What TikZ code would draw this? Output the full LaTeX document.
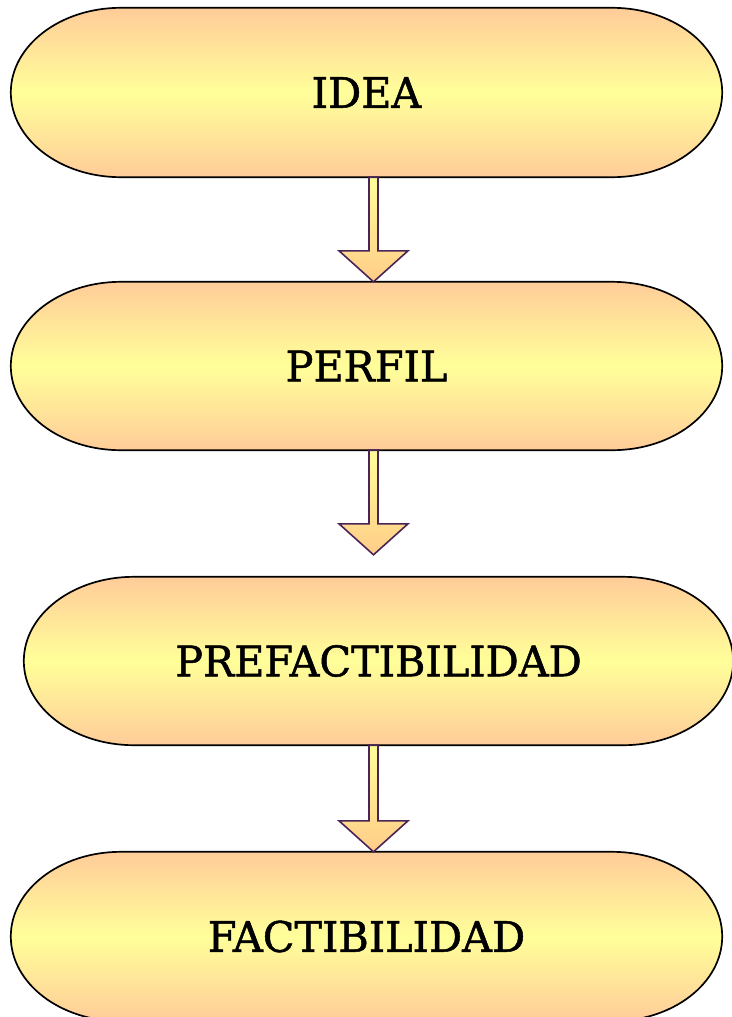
\documentclass[tikz,border=0pt]{standalone}
\usepackage{fontspec}
\newfontfamily\lblfont[FakeBold=1.2,FakeStretch=0.985]{DejaVu Serif}
\usetikzlibrary{calc,backgrounds}
\definecolor{peach}{HTML}{FFCC99}
\definecolor{lemon}{HTML}{FFFF99}
\definecolor{arrowline}{HTML}{4A2458}
\definecolor{arrowbot}{HTML}{FFCC88}
\tikzset{
  stage/.style={minimum width=711pt, minimum height=169pt, inner sep=0pt,
    font=\lblfont\fontsize{42}{50}\selectfont, text=black},
  stadiumfill/.style={draw=black, line width=1.7pt, top color=peach, bottom color=peach, middle color=lemon},
  blockarrow/.style={draw=arrowline, line width=1.6pt, line join=miter, top color=lemon, bottom color=arrowbot}
}
% #1 node name, #2 x radius of end caps
\newcommand{\stadiumpath}[2]{%
  \path[stadiumfill]
    let \p1=(#1.north west), \p2=(#1.south east), \n1={(\y1-\y2)/2} in
    (\x1+#2,\y1) -- (\x2-#2,\y1)
    arc[start angle=90, end angle=-90, x radius=#2, y radius=\n1]
    -- (\x1+#2,\y2)
    arc[start angle=270, end angle=90, x radius=#2, y radius=\n1]
    -- cycle;}
% #1 start coordinate (top of shaft), #2 tip coordinate
\newcommand{\blockarrowpath}[2]{%
  \path[blockarrow]
    let \p1=(#1), \p2=(#2) in
    (\x1-4.5pt,\y1) -- (\x1+4.5pt,\y1) -- (\x1+4.5pt,\y2+31pt) -- (\x1+34.5pt,\y2+31pt)
    -- (\x2,\y2) -- (\x1-34.5pt,\y2+31pt) -- (\x1-4.5pt,\y2+31pt) -- cycle;}
\begin{document}
\begin{tikzpicture}[x=1pt,y=-1pt]
\useasboundingbox (0,0) rectangle (731,1017);
\clip (0,0) rectangle (731,1017);
\node[stage] (idea) at (366.5,92.5) {IDEA};
\node[stage, minimum height=168pt] (perfil) at (366.5,366) {PERFIL};
\node[stage, minimum height=168pt, minimum width=709pt] (pref) at (378.5,661) {PREFACTIBILIDAD};
\node[stage] (fact) at (366.5,936.5) {FACTIBILIDAD};
\coordinate (a1s) at (idea.south -| 373.5,0);
\coordinate (a1e) at (perfil.north -| 373.5,0);
\coordinate (a2s) at (perfil.south -| 373.5,0);
\coordinate (a2e) at ($(pref.north -| 373.5,0)+(0,-22)$);
\coordinate (a3s) at (pref.south -| 373.5,0);
\coordinate (a3e) at (fact.north -| 373.5,0);
\begin{scope}[on background layer]
\stadiumpath{idea}{110pt}
\stadiumpath{perfil}{110pt}
\stadiumpath{pref}{110pt}
\stadiumpath{fact}{110pt}
\end{scope}
\blockarrowpath{a1s}{a1e}
\blockarrowpath{a2s}{a2e}
\blockarrowpath{a3s}{a3e}
\end{tikzpicture}
\end{document}
